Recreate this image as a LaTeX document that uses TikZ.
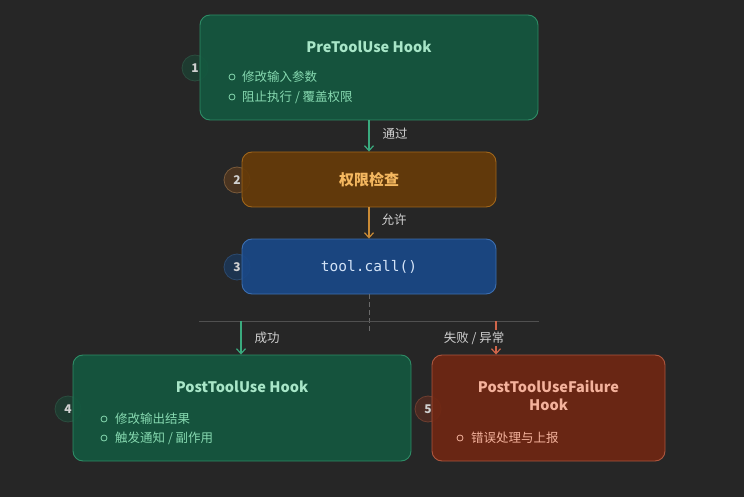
\documentclass[tikz,border=0pt]{standalone}
\usepackage{fontspec}
\setmainfont{Noto Sans CJK SC}
\setmonofont{DejaVu Sans Mono}
\usetikzlibrary{arrows.meta}
\definecolor{bg}{HTML}{262626}
\definecolor{gfill}{HTML}{14573F}
\definecolor{gline}{HTML}{2E8C66}
\definecolor{gtitle}{HTML}{A8E6C8}
\definecolor{gtext}{HTML}{86D9B0}
\definecolor{garrow}{HTML}{3AAA7E}
\definecolor{ofill}{HTML}{663B09}
\definecolor{oline}{HTML}{A0661A}
\definecolor{otext}{HTML}{F5B860}
\definecolor{oarrow}{HTML}{C98A35}
\definecolor{bfill}{HTML}{1A4886}
\definecolor{bline}{HTML}{3C6EB0}
\definecolor{btext}{HTML}{D3E3F7}
\definecolor{rfill}{HTML}{6F2713}
\definecolor{rline}{HTML}{AD563E}
\definecolor{rtext}{HTML}{F4B29C}
\definecolor{rarrow}{HTML}{D0654A}
\definecolor{lbl}{HTML}{D0D0D0}
\definecolor{sep}{HTML}{505050}
\definecolor{dsh}{HTML}{6A6A6A}
\definecolor{bdg}{HTML}{1E3B30}
\definecolor{bdgline}{HTML}{2B4D3F}
\definecolor{bdo}{HTML}{4A3420}
\definecolor{bdoline}{HTML}{7A5A3A}
\definecolor{bdb}{HTML}{1D3450}
\definecolor{bdbline}{HTML}{2C4A6E}
\definecolor{bdr}{HTML}{4A2A22}
\definecolor{bdrline}{HTML}{6E3E30}
\tikzset{
  box/.style={draw, line width=0.9pt, rounded corners=10pt, inner sep=0pt, fill opacity=0.93},
  badge/.style={circle, draw, minimum size=26pt, inner sep=0pt, line width=0.8pt},
  num/.style={text=lbl, font=\fontsize{12}{14}\selectfont\bfseries, inner sep=0pt},
  ttl/.style={font=\fontsize{14.5}{18}\selectfont\bfseries, align=center, inner sep=0pt},
  itm/.style={anchor=west, inner sep=0pt, font=\fontsize{12.5}{15}\selectfont},
  lab/.style={text=lbl, font=\fontsize{12.5}{15}\selectfont, inner sep=1.5pt},
  arr/.style={line width=1.2pt, -{Straight Barb[length=5pt,width=9pt]}},
}
\begin{document}
\begin{tikzpicture}[x=1pt,y=-1pt]
\fill[bg] (0,0) rectangle (744,497);
\useasboundingbox (0,0) rectangle (744,497);

% badges (behind boxes)
\node[badge, fill=bdg, draw=bdgline] (n1) at (195,68) {};
\node[badge, fill=bdo, draw=bdoline] (n2) at (237,180) {};
\node[badge, fill=bdb, draw=bdbline] (n3) at (237,267) {};
\node[badge, fill=bdg, draw=bdgline] (n4) at (68,409) {};
\node[badge, fill=bdr, draw=bdrline] (n5) at (428,409) {};

% boxes
\node[box, fill=gfill, draw=gline, minimum width=338pt, minimum height=105pt] (b1) at (369,67.5) {};
\node[box, fill=ofill, draw=oline, minimum width=254pt, minimum height=55pt] (b2) at (369,179.5) {};
\node[box, fill=bfill, draw=bline, minimum width=254pt, minimum height=55pt] (b3) at (369,266.5) {};
\node[box, fill=gfill, draw=gline, minimum width=338pt, minimum height=106pt] (b4) at (242,408) {};
\node[box, fill=rfill, draw=rline, minimum width=233pt, minimum height=106pt] (b5) at (548.5,408) {};

% badge numbers
\node[num] (m1) at (n1) {1};
\node[num] (m2) at (n2) {2};
\node[num] (m3) at (n3) {3};
\node[num] (m4) at (n4) {4};
\node[num] (m5) at (n5) {5};

% box 1 text
\node[ttl, text=gtitle] (t1) at (369,47) {PreToolUse Hook};
\draw[gtext, line width=0.8pt] (232,77) circle (3pt);
\node[itm, text=gtext] (i11) at (242,77) {修改输入参数};
\draw[gtext, line width=0.8pt] (232,97) circle (3pt);
\node[itm, text=gtext] (i12) at (242,97) {阻止执行 / 覆盖权限};

% box 2/3 text
\node[font=\fontsize{15}{18}\selectfont\bfseries, text=otext] (t2) at (369,180) {权限检查};
\node[font=\ttfamily\fontsize{14.5}{18}\selectfont, text=btext] (t3) at (369,267) {tool.call()};

% box 4 text
\node[ttl, text=gtitle] (t4) at (242,387) {PostToolUse Hook};
\draw[gtext, line width=0.8pt] (104,419) circle (3pt);
\node[itm, text=gtext] (i41) at (115,419) {修改输出结果};
\draw[gtext, line width=0.8pt] (104,438) circle (3pt);
\node[itm, text=gtext] (i42) at (115,438) {触发通知 / 副作用};

% box 5 text
\node[ttl, text=rtext] (t5) at (548.5,395.5) {PostToolUseFailure\\Hook};
\draw[rtext, line width=0.8pt] (460,438) circle (3pt);
\node[itm, text=rtext] (i51) at (471,438) {错误处理与上报};

% connectors
\draw[arr, garrow] (b1.south) -- (b2.north);
\node[lab] (l1) at (395,134) {通过};
\draw[arr, oarrow] (b2.south) -- (b3.north);
\node[lab] (l2) at (394,220) {允许};

\coordinate (dend) at (369,331);
\coordinate (hl) at (199,321);
\coordinate (hr) at (539,321);
\coordinate (gs) at (241,321);
\coordinate (rs) at (496,321);
\draw[dsh, line width=1pt, dash pattern=on 5pt off 3pt] (b3.south) -- (dend);
\draw[sep, line width=1pt] (hl) -- (hr);
\draw[arr, garrow] (gs) -- (gs |- b4.north);
\draw[arr, rarrow] (rs) -- (rs |- b5.north);
\node[lab] (l3) at (267,338) {成功};
\node[lab, fill=bg] (l4) at (474,338) {失败 / 异常};
\end{tikzpicture}
\end{document}
